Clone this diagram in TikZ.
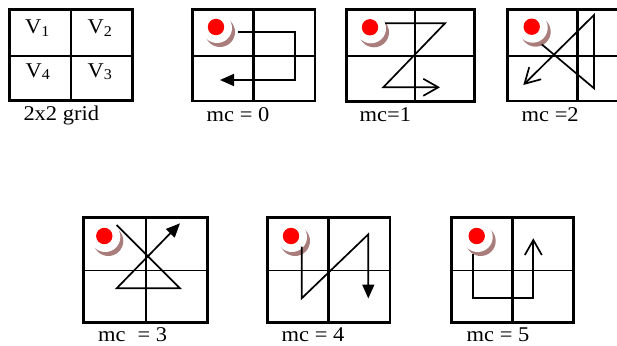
\documentclass[tikz,border=0pt]{standalone}
\usepackage{fontspec}
\setmainfont{Liberation Serif}[FakeStretch=1.07]
\usetikzlibrary{arrows.meta}
\definecolor{shadecol}{RGB}{170,125,125}
\tikzset{
  boldline/.style={line width=2.6pt},
  thinline/.style={line width=1.1pt},
  route/.style={line width=1.7pt, line join=miter},
  solidtip/.style={-{Triangle[length=14pt,width=12pt]}},
  opentip/.style={-{Straight Barb[length=15pt,width=17pt,line width=1.7pt]}},
  lbl/.style={anchor=base west, inner sep=0pt, font=\fontsize{21}{25}\selectfont},
}
\newcommand{\redball}[3]{%
  \fill[shadecol] (#2+4,#3+5) circle[radius=15pt];
  \fill[white] (#2+1,#3+1) circle[radius=15pt];
  \fill[red] (#2,#3) circle[radius=8.2pt];
  \coordinate (#1) at (#2,#3);
}
% #1 left, #2 right, #3 top, #4 bottom, #5 mid x, #6 mid y, #7 style of mid horizontal
\newcommand{\cellgrid}[7]{%
  \draw[boldline] (#1,#3) rectangle (#2,#4);
  \draw[boldline] (#5,#3) -- (#5,#4);
  \draw[#7] (#1,#6) -- (#2,#6);
}
\begin{document}
\begin{tikzpicture}[x=1pt,y=-1pt]
\useasboundingbox (0,0) rectangle (617,345);
% ----- 2x2 grid -----
\cellgrid{9.3}{132.3}{9.3}{100.7}{71}{56}{boldline}
\node[lbl] (v1) at (25,33.5) {V\raisebox{-0.3ex}{\fontsize{15}{15}\selectfont 1}};
\node[lbl] (v2) at (87.5,33.5) {V\raisebox{-0.3ex}{\fontsize{15}{15}\selectfont 2}};
\node[lbl] (v4) at (25.5,77) {V\raisebox{-0.3ex}{\fontsize{15}{15}\selectfont 4}};
\node[lbl] (v3) at (87.5,77) {V\raisebox{-0.3ex}{\fontsize{15}{15}\selectfont 3}};
\node[lbl] (t0) at (23.3,120.7) {2x2 grid};
% ----- mc = 0 -----
\redball{b0}{216}{27}
\cellgrid{192.3}{315}{9.3}{101}{253.7}{56}{boldline}
\draw[route,solidtip] (238.3,31.7) -- (295,31.7) -- (295,80) -- (220,80);
\node[lbl] (t1) at (206.5,121.5) {mc = 0};
% ----- mc = 1 -----
\redball{b1}{370}{27.3}
\cellgrid{346.7}{474.3}{9.3}{101.7}{415}{56}{boldline}
\draw[route,opentip] (385,23.3) -- (445,23.3) -- (383.3,87.3) -- (440,87.3);
\node[lbl] (t2) at (359.5,121.5) {mc=1};
% ----- mc = 2 -----
\redball{b2}{531.7}{26.7}
\draw[boldline] (617,9.3) -- (507.7,9.3) -- (507.7,101) -- (617,101);
\draw[boldline] (577.7,9.3) -- (577.7,101);
\draw[boldline] (507.7,56) -- (617,56);
\draw[route,opentip] (541.7,44.3) -- (594,88.3) -- (594,15) -- (523.3,85);
\node[lbl] (t3) at (521.5,121.5) {mc =2};
% ----- mc = 3 -----
\redball{b3}{104.3}{236}
\cellgrid{83.3}{207.7}{217.7}{322.7}{146}{270.7}{thinline}
\draw[route,solidtip] (116.7,225) -- (180,288.3) -- (116.7,288.3) -- (180,223.3);
\node[lbl] (t4) at (98,341.5) {mc\hspace{0.3em} = 3};
% ----- mc = 4 -----
\redball{b4}{291}{236}
\cellgrid{267.7}{390}{217.7}{322.7}{328.3}{270.7}{thinline}
\draw[route,solidtip] (301.7,246.7) -- (301.7,298.3) -- (368.3,234.3) -- (368.3,298.5);
\node[lbl] (t5) at (281.5,341.5) {mc = 4};
% ----- mc = 5 -----
\redball{b5}{476.7}{236}
\cellgrid{451.7}{573.3}{217.7}{322.7}{512.7}{270.7}{thinline}
\draw[route,opentip] (473.3,254.3) -- (473.3,297.7) -- (533.3,297.7) -- (533.3,238.3);
\node[lbl] (t6) at (466.5,341.5) {mc = 5};
\end{tikzpicture}
\end{document}
